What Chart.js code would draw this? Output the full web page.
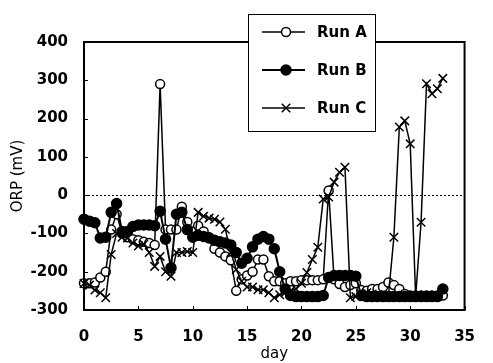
<!DOCTYPE html>
<html>
<head>
<meta charset="utf-8">
<script src="https://cdn.jsdelivr.net/npm/chart.js@4/dist/chart.umd.min.js"></script>
<style>
  html, body { margin: 0; padding: 0; background: #fff; }
  #wrap { width: 493px; height: 363px; position: relative; }
</style>
</head>
<body>
<div id="wrap"><canvas id="orpChart"></canvas></div>
<script>
// ORP readings (mV) per sampling day
const days = [0, 0.5, 1, 1.5, 2, 2.5, 3, 3.5, 4, 4.5, 5, 5.5, 6, 6.5, 7, 7.5, 8, 8.5, 9, 9.5,
              10, 10.5, 11, 11.5, 12, 12.5, 13, 13.5, 14, 14.5, 15, 15.5, 16, 16.5, 17, 17.5, 18, 18.5, 19, 19.5,
              20, 20.5, 21, 21.5, 22, 22.5, 23, 23.5, 24, 24.5, 25, 25.5, 26, 26.5, 27, 27.5, 28, 28.5, 29, 29.5,
              30, 30.5, 31, 31.5, 32, 32.5, 33];
const runA = [-230, -230, -228, -215, -200, -90, -50, -100, -110, -115, -118, -122, -125, -130, 290, -90, -90, -90, -30, -70,
              -95, -80, -95, -110, -140, -150, -160, -170, -250, -220, -210, -200, -168, -168, -212, -225, -225, -230, -225, -225,
              -222, -222, -222, -222, -220, 12, -220, -232, -240, -235, -230, -248, -250, -245, -245, -240, -228, -235, -245, -258,
              -262, -262, -262, -262, -262, -262, -262];
const runB = [-63, -68, -72, -112, -110, -45, -22, -95, -95, -82, -78, -78, -78, -80, -42, -115, -190, -50, -45, -90,
              -110, -105, -108, -112, -118, -122, -125, -130, -150, -178, -165, -135, -115, -108, -115, -140, -200, -245, -262, -265,
              -265, -265, -265, -265, -262, -215, -210, -210, -210, -210, -212, -262, -265, -265, -265, -265, -265, -265, -265, -265,
              -265, -265, -265, -265, -265, -265, -245];
const runC = [-231, -235, -248, -255, -268, -155, -100, -110, -112, -125, -133, -128, -150, -186, -160, -200, -212, -150, -150, -147,
              -150, -45, -55, -60, -63, -70, -89, -150, -194, -225, -240, -240, -247, -247, -255, -268, -260, -255, -250, -245,
              -230, -202, -168, -136, -10, -5, 34, 60, 73, -268, -265, -258, -255, -258, -260, -262, -262, -110, 178, 194,
              134, -265, -71, 291, 265, 278, 305];
const runNames = ['Run A', 'Run B', 'Run C'];
const xTicks = [0, 5, 10, 15, 20, 25, 30, 35];
const yTicks = [-300, -200, -100, 0, 100, 200, 300, 400];

function pts(vals) {
    return days.map((d, i) => ({ x: d, y: vals[i] }));
}

const markerStyles = [
    { pointStyle: 'circle', radius: 4.5, fill: '#fff', line: 1.5 },
    { pointStyle: 'circle', radius: 5, fill: '#000', line: 2 },
    { pointStyle: 'crossRot', radius: 6, fill: '#000', line: 1.5 }
];

// frame, dotted zero line, inside ticks and the boxed legend
const decorPlugin = {
    id: 'decor',
    beforeDatasetsDraw(chart) {
        const { ctx, chartArea: a, scales: { x, y } } = chart;
        ctx.save();
        ctx.strokeStyle = '#000';
        ctx.lineWidth = 1;
        ctx.setLineDash([2, 2]);
        const y0 = Math.round(y.getPixelForValue(0)) + 0.5;
        ctx.beginPath();
        ctx.moveTo(a.left, y0);
        ctx.lineTo(a.right, y0);
        ctx.stroke();
        ctx.setLineDash([]);
        ctx.beginPath();
        yTicks.forEach(v => {
            const py = Math.round(y.getPixelForValue(v)) + 0.5;
            ctx.moveTo(a.left, py);
            ctx.lineTo(a.left + 4, py);
        });
        xTicks.forEach(v => {
            const px = Math.round(x.getPixelForValue(v)) + 0.5;
            ctx.moveTo(px, a.bottom);
            ctx.lineTo(px, a.bottom - 4);
        });
        ctx.stroke();
        ctx.restore();
    },
    afterDraw(chart) {
        const { ctx, chartArea: a } = chart;
        ctx.save();
        ctx.strokeStyle = '#000';
        ctx.lineWidth = 2;
        ctx.strokeRect(a.left, a.top, a.right - a.left, a.bottom - a.top);

        // legend box
        const bx = 248, by = 14, bw = 127, bh = 117;
        ctx.fillStyle = '#fff';
        ctx.fillRect(bx, by, bw, bh);
        ctx.lineWidth = 1;
        ctx.strokeRect(bx + 0.5, by + 0.5, bw, bh);
        ctx.font = 'bold 15px "DejaVu Sans"';
        ctx.textBaseline = 'middle';
        runNames.forEach((name, i) => {
            const ly = 32 + i * 38;
            const m = markerStyles[i];
            ctx.strokeStyle = '#000';
            ctx.lineWidth = m.line;
            ctx.beginPath();
            ctx.moveTo(262, ly);
            ctx.lineTo(305, ly);
            ctx.stroke();
            ctx.lineWidth = 1.5;
            if (m.pointStyle === 'circle') {
                ctx.fillStyle = m.fill;
                ctx.beginPath();
                ctx.arc(286, ly, m.radius, 0, Math.PI * 2);
                ctx.fill();
                ctx.stroke();
            } else {
                Chart.helpers.drawPoint(ctx, {
                    pointStyle: m.pointStyle, radius: m.radius, rotation: 0, borderWidth: 1.5
                }, 286, ly);
            }
            ctx.fillStyle = '#000';
            ctx.fillText(name, 317, ly + 1);
        });
        ctx.restore();
    }
};

const series = [runA, runB, runC];
const ctx = document.getElementById('orpChart').getContext('2d');
const orpChart = new Chart(ctx, {
    type: 'line',
    data: {
        datasets: series.map((vals, i) => ({
            label: runNames[i],
            data: pts(vals),
            borderColor: '#000',
            borderWidth: markerStyles[i].line,
            pointStyle: markerStyles[i].pointStyle,
            pointRadius: markerStyles[i].radius,
            pointBackgroundColor: markerStyles[i].fill,
            pointBorderColor: '#000',
            pointBorderWidth: 1.5,
            tension: 0,
            clip: false,
            order: 3 - i
        }))
    },
    options: {
        responsive: true,
        maintainAspectRatio: false,
        animation: false,
        layout: { padding: { top: 42, right: 17, left: 0, bottom: 0 } },
        scales: {
            x: {
                type: 'linear',
                min: xTicks[0],
                max: xTicks[xTicks.length - 1],
                afterFit: s => { s.height = 53; },
                grid: { display: false, drawTicks: false },
                border: { display: false },
                ticks: {
                    stepSize: 5,
                    padding: 18,
                    color: '#000',
                    font: { family: 'DejaVu Sans', size: 15, weight: 'bold' }
                },
                title: {
                    display: true,
                    text: 'day',
                    color: '#000',
                    padding: { top: 0, bottom: 0 },
                    font: { family: 'DejaVu Sans', size: 15 }
                }
            },
            y: {
                min: yTicks[0],
                max: yTicks[yTicks.length - 1],
                afterFit: s => { s.width = 84; },
                grid: { display: false, drawTicks: false },
                border: { display: false },
                ticks: {
                    stepSize: 100,
                    padding: 16,
                    color: '#000',
                    font: { family: 'DejaVu Sans', size: 15, weight: 'bold' }
                },
                title: {
                    display: true,
                    text: 'ORP (mV)',
                    color: '#000',
                    padding: { top: 9, bottom: 0 },
                    font: { family: 'DejaVu Sans', size: 15 }
                }
            }
        },
        plugins: {
            legend: { display: false },
            tooltip: { enabled: false }
        }
    },
    plugins: [decorPlugin]
});
</script>
</body>
</html>
